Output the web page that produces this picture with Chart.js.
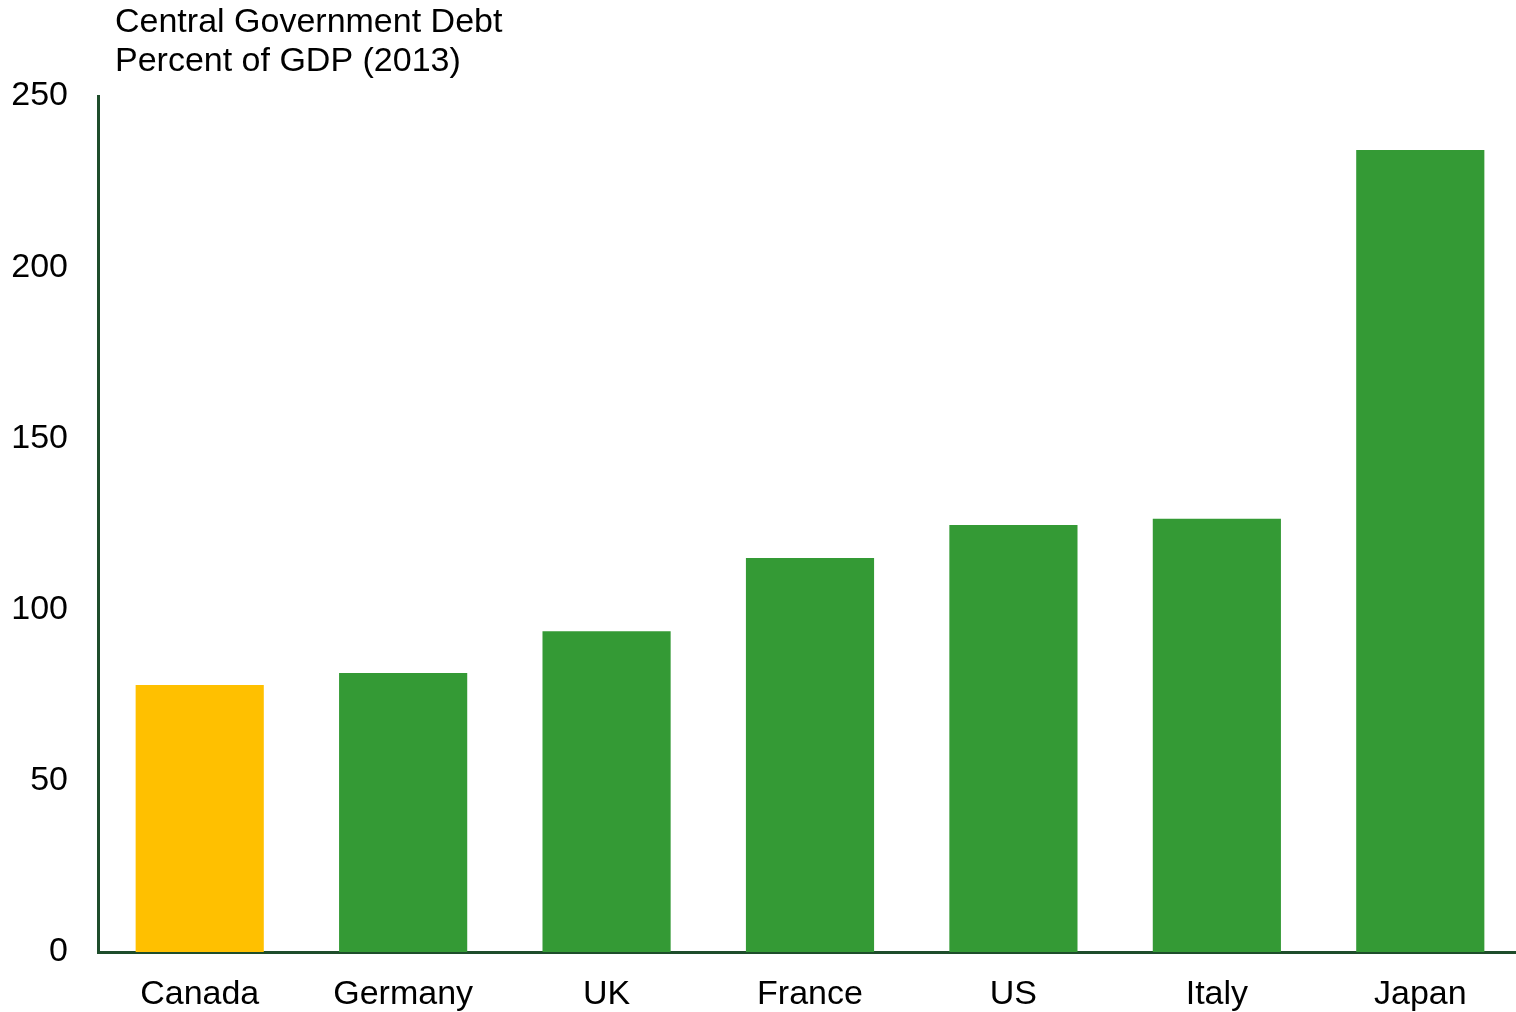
<!DOCTYPE html>
<html>
<head>
<meta charset="utf-8">
<script src="https://cdn.jsdelivr.net/npm/chart.js@4"></script>
<style>
  html, body { margin: 0; padding: 0; background: #fff; overflow: hidden; }
  #wrap { width: 1522px; height: 1012px; position: relative; }
</style>
</head>
<body>
<div id="wrap"><canvas id="debtChart"></canvas></div>
<script>
// Central government debt, percent of GDP (2013)
const countries = ['Canada', 'Germany', 'UK', 'France', 'US', 'Italy', 'Japan'];
const debtPct = [78, 81.5, 93.7, 115.1, 124.7, 126.5, 234.2];
const barColors = ['#FFC000', '#349A35', '#349A35', '#349A35', '#349A35', '#349A35', '#349A35'];
const titleLines = ['Central Government Debt', 'Percent of GDP (2013)'];

const FONT = '"Liberation Sans", Arial, sans-serif';
const AXIS = '#1E4D2B';

const titlePlugin = {
  id: 'topLeftTitle',
  afterDraw(chart) {
    const ctx = chart.ctx;
    ctx.save();
    ctx.fillStyle = '#000';
    ctx.font = '34px ' + FONT;
    ctx.textBaseline = 'middle';
    ctx.textAlign = 'left';
    titleLines.forEach((t, i) => ctx.fillText(t, 115, 23 + i * 39));
    ctx.restore();
  }
};

new Chart(document.getElementById('debtChart'), {
  type: 'bar',
  data: {
    labels: countries,
    datasets: [{
      data: debtPct,
      backgroundColor: barColors,
      categoryPercentage: 1,
      barPercentage: 0.63,
    }],
  },
  options: {
    responsive: true, maintainAspectRatio: false, animation: false,
    layout: { padding: { top: 96, right: 0, left: 0, bottom: 0 } },
    plugins: { legend: { display: false }, tooltip: { enabled: false } },
    scales: {
      x: {
        grid: { display: false, drawTicks: false },
        border: { display: true, color: AXIS, width: 3 },
        ticks: { color: '#000', font: { family: FONT, size: 34 }, padding: 22 },
        afterFit(s) { s.height = 60; },
      },
      y: {
        min: 0, max: 250,
        grid: { display: false, drawTicks: false },
        border: { display: true, color: AXIS, width: 3 },
        ticks: { stepSize: 50, color: '#000', font: { family: FONT, size: 34 }, padding: 30 },
        afterFit(s) { s.width = 98; },
      },
    },
  },
  plugins: [titlePlugin],
});
</script>
</body>
</html>
